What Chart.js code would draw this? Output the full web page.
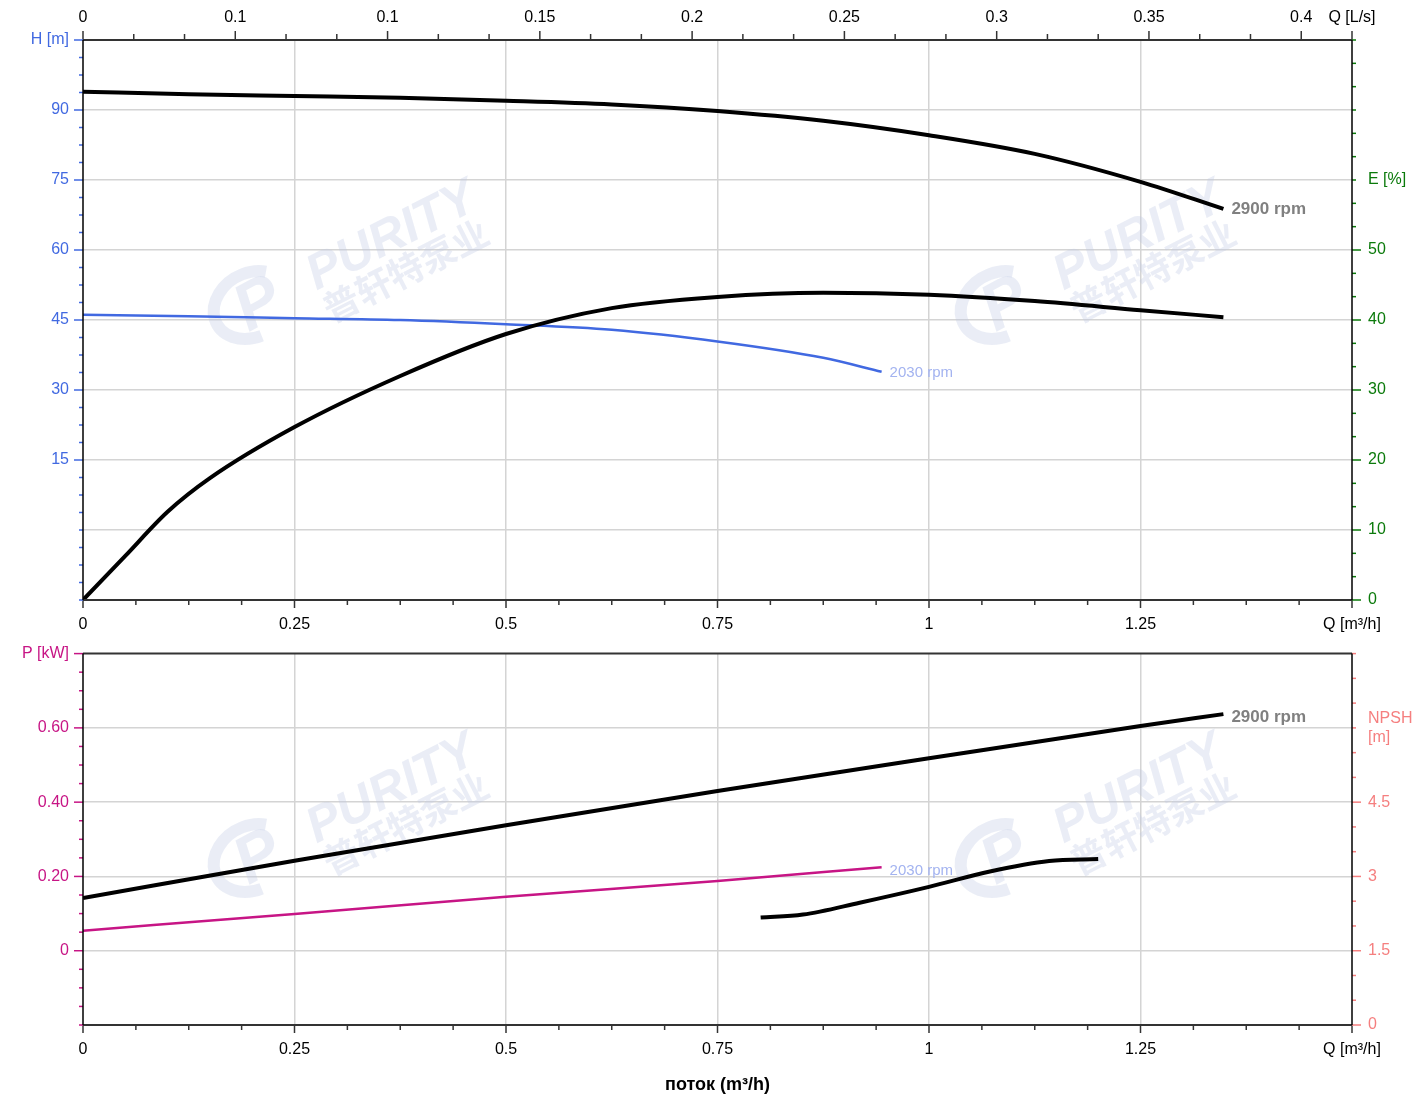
<!DOCTYPE html>
<html>
<head>
<meta charset="utf-8">
<script src="https://cdn.jsdelivr.net/npm/chart.js@4.4.1/dist/chart.umd.min.js"></script>
<style>
  html, body { margin: 0; padding: 0; background: #fff; }
  #wrap { position: relative; width: 1424px; height: 1098px; }
  canvas { position: absolute; left: 0; }
  #top { top: 0; }
  #bottom { top: 636px; }
</style>
</head>
<body>
<div id="wrap">
  <canvas id="top" width="1424" height="640"></canvas>
  <canvas id="bottom" width="1424" height="462"></canvas>
</div>
<script>
// flow in m3/h
const qH2900 = [0, 0.125, 0.25, 0.375, 0.5, 0.625, 0.75, 0.875, 1.0, 1.125, 1.25, 1.348];
const hH2900 = [93.9, 93.4, 93.0, 92.6, 92.0, 91.2, 89.8, 87.7, 84.6, 80.6, 74.6, 68.8];

const qE2900 = [0, 0.05, 0.1, 0.15, 0.25, 0.375, 0.5, 0.625, 0.75, 0.875, 1.0, 1.125, 1.25, 1.348];
const eE2900 = [0, 6.3, 12.6, 17.4, 24.7, 32.0, 38.0, 41.7, 43.3, 43.9, 43.6, 42.7, 41.4, 40.4];

const qH2030 = [0, 0.125, 0.25, 0.375, 0.5, 0.625, 0.75, 0.875, 0.944];
const hH2030 = [46.1, 45.8, 45.4, 45.0, 44.1, 42.9, 40.4, 36.9, 33.9];

const qP2900 = [0, 0.25, 0.5, 0.75, 1.0, 1.25, 1.348];
const pP2900 = [0.142, 0.242, 0.338, 0.430, 0.518, 0.605, 0.637];

const qP2030 = [0, 0.25, 0.5, 0.75, 0.944];
const pP2030 = [0.054, 0.099, 0.145, 0.188, 0.225];

const qNpsh = [0.801, 0.851, 0.918, 1.0, 1.072, 1.142, 1.2];
const nNpsh = [2.17, 2.23, 2.47, 2.79, 3.10, 3.31, 3.35];

// tick labels
const qTickVals = [0, 0.25, 0.5, 0.75, 1, 1.25, 1.5];
const qTickLabels = ['0', '0.25', '0.5', '0.75', '1', '1.25', 'Q [m³/h]'];
const qsTickVals = [0, 0.05, 0.1, 0.15, 0.2, 0.25, 0.3, 0.35, 0.4, 1.5 / 3.6];
const qsTickLabels = ['0', '0.1', '0.1', '0.15', '0.2', '0.25', '0.3', '0.35', '0.4', 'Q [L/s]'];
const hTickVals = [15, 30, 45, 60, 75, 90, 105];
const hTickLabels = ['15', '30', '45', '60', '75', '90', 'H [m]'];
const eTickVals = [0, 10, 20, 30, 40, 50, 60];
const eTickLabels = ['0', '10', '20', '30', '40', '50', 'E [%]'];
const pTickVals = [0, 0.2, 0.4, 0.6, 0.8];
const pTickLabels = ['0', '0.20', '0.40', '0.60', 'P [kW]'];
const nTickVals = [0, 1.5, 3, 4.5, 6];
const nTickLabels = ['0', '1.5', '3', '4.5', ['NPSH', '[m]']];

const FONT = '"Liberation Sans", Arial, sans-serif';
const GRID = '#d4d4d4';

function steps(min, max, step) {
  const n = Math.round((max - min) / step);
  const out = [];
  for (let i = 0; i <= n; i++) out.push(min + i * step);
  return out;
}
function near(list, v) {
  return list.findIndex(x => Math.abs(x - v) < 1e-6);
}
function pts(xs, ys) {
  return xs.map((x, i) => ({ x: x, y: ys[i] }));
}

const tickStyle = {
  x: { color: '#333', major: 8, minor: 5 },
  x2: { color: '#333', major: 9, minor: 6 },
  yH: { color: '#4169e1', major: 9, minor: 4 },
  yE: { color: '#0b7a0b', major: 9, minor: 4, shortTitle: true },
  yP: { color: '#c71585', major: 9, minor: 4 },
  yN: { color: '#f57f7f', major: 9, minor: 4, shortTitle: true }
};

function axis(opts) {
  const { pos, min, max, step, vals, labels, gridVals, color, size, padding } = opts;
  return {
    type: 'linear',
    position: pos,
    min: min,
    max: max,
    afterBuildTicks: s => { s.ticks = steps(min, max, step).map(v => ({ value: v })); },
    afterFit: s => {
      if (pos === 'left' || pos === 'right') s.width = size; else s.height = size;
    },
    border: { display: false },
    grid: {
      drawOnChartArea: !!gridVals,
      color: c => (gridVals && c.tick && near(gridVals, c.tick.value) >= 0) ? GRID : 'rgba(0,0,0,0)',
      lineWidth: 1.5,
      tickColor: 'rgba(0,0,0,0)',
      tickLength: 8
    },
    ticks: {
      autoSkip: false,
      maxRotation: 0,
      padding: padding,
      color: color,
      font: { family: FONT, size: 16 },
      callback: v => { const i = near(vals, v); return i < 0 ? '' : labels[i]; }
    }
  };
}

const tickMarks = {
  id: 'tickMarks',
  afterDraw(chart) {
    const ctx = chart.ctx, a = chart.chartArea;
    ctx.save();
    Object.values(chart.scales).forEach(s => {
      const st = tickStyle[s.id];
      if (!st) return;
      ctx.strokeStyle = st.color;
      ctx.lineWidth = 1.5;
      s.ticks.forEach(t => {
        const lbl = t.label;
        let major = lbl !== '' && lbl != null;
        if (major && st.shortTitle && isNaN(+lbl)) major = false;
        const len = major ? st.major : st.minor;
        const p = s.getPixelForValue(t.value);
        ctx.beginPath();
        if (s.position === 'left') { ctx.moveTo(a.left, p); ctx.lineTo(a.left - len, p); }
        else if (s.position === 'right') { ctx.moveTo(a.right, p); ctx.lineTo(a.right + len, p); }
        else if (s.position === 'bottom') { ctx.moveTo(p, a.bottom); ctx.lineTo(p, a.bottom + len); }
        else { ctx.moveTo(p, a.top); ctx.lineTo(p, a.top - len); }
        ctx.stroke();
      });
    });
    // frame
    ctx.strokeStyle = '#333';
    ctx.lineWidth = 2;
    ctx.beginPath();
    ctx.moveTo(a.left, a.top); ctx.lineTo(a.right, a.top);
    ctx.moveTo(a.left, a.bottom); ctx.lineTo(a.right, a.bottom);
    ctx.stroke();
    ctx.strokeStyle = '#000';
    ctx.lineWidth = 1.5;
    ctx.beginPath();
    ctx.moveTo(a.left, a.top); ctx.lineTo(a.left, a.bottom);
    ctx.moveTo(a.right, a.top); ctx.lineTo(a.right, a.bottom);
    ctx.stroke();
    ctx.restore();
  }
};

const rpmTags = {
  id: 'rpmTags',
  afterDatasetsDraw(chart) {
    const ctx = chart.ctx;
    ctx.save();
    chart.data.datasets.forEach((ds, i) => {
      if (!ds.tag) return;
      const meta = chart.getDatasetMeta(i);
      const last = meta.data[meta.data.length - 1];
      ctx.font = ds.tagBold ? 'bold 17px ' + FONT : '15px ' + FONT;
      ctx.fillStyle = ds.tagColor;
      ctx.textAlign = 'left';
      ctx.textBaseline = 'middle';
      ctx.fillText(ds.tag, last.x + 8, last.y + (ds.tagDy || 0));
    });
    ctx.restore();
  }
};

function drawMark(ctx, x, y) {
  const col = 'rgba(190,200,226,0.32)';
  ctx.save();
  ctx.translate(x, y);
  ctx.rotate(-0.47);
  ctx.fillStyle = col;
  ctx.textAlign = 'center';
  ctx.textBaseline = 'middle';
  ctx.font = 'italic bold 50px ' + FONT;
  ctx.fillText('PURITY', 0, 0);
  ctx.font = 'bold 36px "Noto Sans CJK SC", sans-serif';
  ctx.fillText('普轩特泵业', -3, 36);
  ctx.restore();
  ctx.save();
  ctx.translate(x - 140, y + 68);
  ctx.rotate(-0.5);
  ctx.strokeStyle = col;
  ctx.fillStyle = col;
  ctx.lineWidth = 12;
  ctx.beginPath();
  ctx.ellipse(0, 0, 40, 32, 0, Math.PI * 0.55, Math.PI * 1.75);
  ctx.stroke();
  ctx.font = 'italic bold 66px ' + FONT;
  ctx.textAlign = 'center';
  ctx.textBaseline = 'middle';
  ctx.fillText('P', 6, 4);
  ctx.restore();
}

function watermark(dy) {
  return {
    id: 'watermark',
    beforeDatasetsDraw(chart) {
      const ctx = chart.ctx;
      drawMark(ctx, 392, 237 + dy);
      drawMark(ctx, 1139, 237 + dy);
    }
  };
}

const common = {
  responsive: false,
  animation: false,
  events: [],
  elements: { point: { radius: 0 }, line: { cubicInterpolationMode: 'monotone' } },
  plugins: { legend: { display: false }, tooltip: { enabled: false } }
};

new Chart(document.getElementById('top'), {
  type: 'line',
  data: {
    datasets: [
      { data: pts(qH2900, hH2900), xAxisID: 'x', yAxisID: 'yH', borderColor: '#000', borderWidth: 4,
        tag: '2900 rpm', tagBold: true, tagColor: '#808080' },
      { data: pts(qE2900, eE2900), xAxisID: 'x', yAxisID: 'yE', borderColor: '#000', borderWidth: 4 },
      { data: pts(qH2030, hH2030), xAxisID: 'x', yAxisID: 'yH', borderColor: '#4169e1', borderWidth: 2.5,
        tag: '2030 rpm', tagColor: '#a3b3f0', tagDy: 1 }
    ]
  },
  options: Object.assign({}, common, {
    layout: { padding: 0 },
    scales: {
      x: axis({ pos: 'bottom', min: 0, max: 1.5, step: 0.0625, vals: qTickVals, labels: qTickLabels,
        gridVals: [0.25, 0.5, 0.75, 1, 1.25], color: '#000', size: 40, padding: 7 }),
      x2: axis({ pos: 'top', min: 0, max: 1.5 / 3.6, step: 0.05 / 3, vals: qsTickVals, labels: qsTickLabels,
        color: '#000', size: 40, padding: 5 }),
      yH: axis({ pos: 'left', min: -15, max: 105, step: 3.75, vals: hTickVals, labels: hTickLabels,
        gridVals: [0, 15, 30, 45, 60, 75, 90], color: '#4169e1', size: 83, padding: 6 }),
      yE: axis({ pos: 'right', min: 0, max: 80, step: 10 / 3, vals: eTickVals, labels: eTickLabels,
        color: '#0b7a0b', size: 72, padding: 8 })
    }
  }),
  plugins: [watermark(0), tickMarks, rpmTags]
});

const bottomX = axis({ pos: 'bottom', min: 0, max: 1.5, step: 0.0625, vals: qTickVals, labels: qTickLabels,
  gridVals: [0.25, 0.5, 0.75, 1, 1.25], color: '#000', size: 73, padding: 7 });
bottomX.title = { display: true, text: 'поток (m³/h)', color: '#000',
  font: { family: FONT, size: 18, weight: 'bold' }, padding: { top: 0, bottom: 2 } };

new Chart(document.getElementById('bottom'), {
  type: 'line',
  data: {
    datasets: [
      { data: pts(qP2900, pP2900), xAxisID: 'x', yAxisID: 'yP', borderColor: '#000', borderWidth: 4,
        tag: '2900 rpm', tagBold: true, tagColor: '#808080', tagDy: 3 },
      { data: pts(qP2030, pP2030), xAxisID: 'x', yAxisID: 'yP', borderColor: '#c71585', borderWidth: 2.5,
        tag: '2030 rpm', tagColor: '#a3b3f0', tagDy: 4 },
      { data: pts(qNpsh, nNpsh), xAxisID: 'x', yAxisID: 'yN', borderColor: '#000', borderWidth: 4 }
    ]
  },
  options: Object.assign({}, common, {
    layout: { padding: { top: 13 } },
    scales: {
      x: bottomX,
      yP: axis({ pos: 'left', min: -0.2, max: 0.8, step: 0.05, vals: pTickVals, labels: pTickLabels,
        gridVals: [0, 0.2, 0.4, 0.6], color: '#c71585', size: 83, padding: 6 }),
      yN: axis({ pos: 'right', min: 0, max: 7.5, step: 0.5, vals: nTickVals, labels: nTickLabels,
        color: '#f57f7f', size: 72, padding: 8 })
    }
  }),
  plugins: [watermark(553 - 636), tickMarks, rpmTags]
});
</script>
</body>
</html>
